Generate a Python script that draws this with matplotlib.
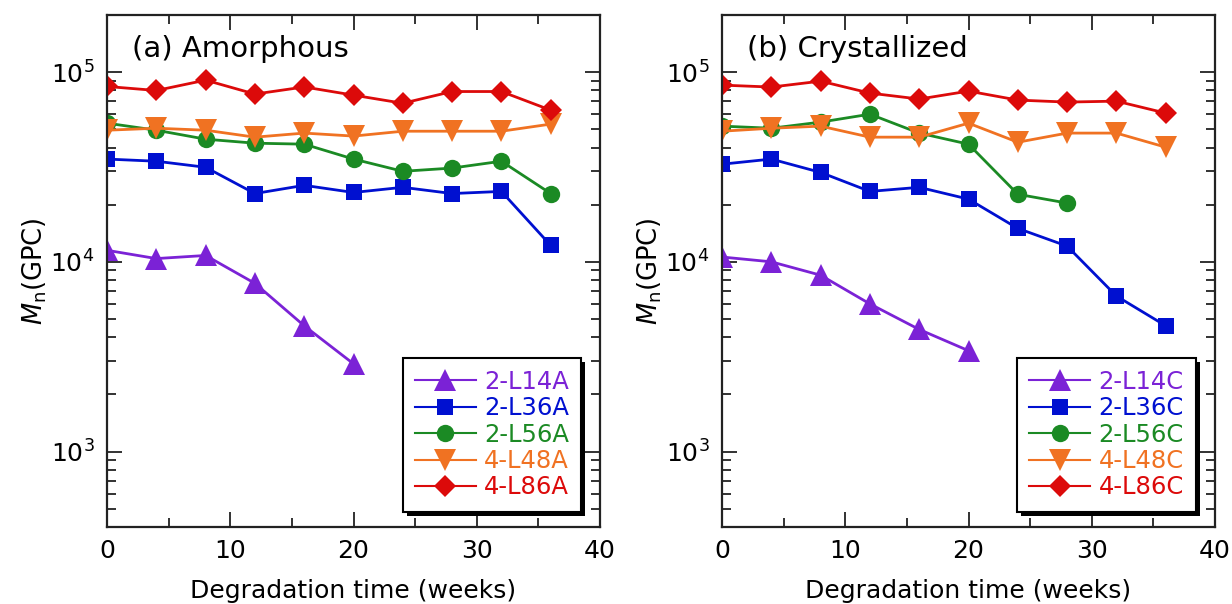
import matplotlib
matplotlib.use("Agg")
import matplotlib.pyplot as plt
import matplotlib.patheffects as pe
from matplotlib.ticker import LogLocator, MultipleLocator, NullFormatter

plt.rcParams['font.family'] = ['DejaVu Sans']
plt.rcParams['mathtext.fontset'] = 'dejavusans'

weeks = [0, 4, 8, 12, 16, 20, 24, 28, 32, 36]

# Panel (a) Amorphous
a_L14 = [11500, 10400, 10800, 7700, 4600, 2900]
a_L36 = [34800, 33900, 31500, 22900, 25300, 23200, 24700, 22900, 23500, 12200]
a_L56 = [53800, 49400, 44300, 42200, 41700, 34800, 30000, 31200, 33900, 22900]
a_L48 = [49400, 50600, 49400, 45400, 47700, 46000, 48800, 48800, 48800, 53200]
a_L86 = [84000, 80000, 90700, 76600, 83500, 75600, 68500, 79000, 79000, 63000]

# Panel (b) Crystallized
b_L14 = [10600, 10000, 8500, 6000, 4400, 3400]
b_L36 = [32700, 34800, 29600, 23500, 24700, 21400, 15000, 12100, 6600, 4600]
b_L56 = [51900, 50600, 54500, 60000, 47700, 41700, 22700, 20400]
b_L48 = [48800, 50600, 51900, 45400, 45400, 53800, 42700, 47700, 47700, 40200]
b_L86 = [85400, 83400, 89600, 77500, 72100, 79400, 71200, 69500, 70300, 60800]

labels_a = ['2-L14A', '2-L36A', '2-L56A', '4-L48A', '4-L86A']
labels_b = ['2-L14C', '2-L36C', '2-L56C', '4-L48C', '4-L86C']
panel_titles = ['(a) Amorphous', '(b) Crystallized']

colors = ['#7b22d6', '#0010d0', '#1b8a24', '#f07222', '#dc0a0a']
markers = ['^', 's', 'o', 'v', 'D']
msizes = [16, 11.5, 12.5, 16, 11.5]

fig = plt.figure(figsize=(12.32, 6.04), dpi=100)
axA = fig.add_axes([107/1232, 1-527/604, 493/1232, 512/604])
axB = fig.add_axes([722/1232, 1-527/604, 493/1232, 512/604])

panels = [
    (axA, [a_L14, a_L36, a_L56, a_L48, a_L86], labels_a, panel_titles[0]),
    (axB, [b_L14, b_L36, b_L56, b_L48, b_L86], labels_b, panel_titles[1]),
]

for ax, series, labels, title in panels:
    handles = []
    for vals, lab, c, m, ms in zip(series, labels, colors, markers, msizes):
        h, = ax.plot(weeks[:len(vals)], vals, color=c, marker=m, markersize=ms,
                     linewidth=2.0, markeredgewidth=0, label=lab)
        handles.append(h)
    ax.set_yscale('log')
    ax.set_xlim(0, 40)
    ax.set_ylim(400, 2e5)
    ax.xaxis.set_major_locator(MultipleLocator(10))
    ax.xaxis.set_minor_locator(MultipleLocator(5))
    ax.yaxis.set_major_locator(LogLocator(base=10, numticks=10))
    ax.yaxis.set_minor_locator(LogLocator(base=10, subs=range(2, 10), numticks=20))
    ax.yaxis.set_minor_formatter(NullFormatter())
    ax.tick_params(which='both', direction='in', top=True, right=True,
                   width=1.3, color='#222222', labelsize=18)
    ax.tick_params(which='major', length=11, pad=9)
    ax.tick_params(which='minor', length=6.5)
    for s in ax.spines.values():
        s.set_linewidth(1.6)
        s.set_color('#222222')
    ax.set_xlabel('Degradation time (weeks)', fontsize=18, labelpad=11)
    ax.set_ylabel(r'$M_\mathrm{n}$(GPC)', fontsize=18.5, labelpad=1)
    ax.text(0.05, 0.96, title, transform=ax.transAxes, fontsize=21,
            ha='left', va='top')
    leg = ax.legend(handles=handles, loc='lower right', bbox_to_anchor=(0.962, 0.03),
                    fontsize=17.5, frameon=True, fancybox=False, shadow=False,
                    framealpha=1.0, facecolor='white',
                    handlelength=2.5, handletextpad=0.35, labelspacing=0.1,
                    borderpad=0.5, borderaxespad=0, markerscale=1.0)
    frame = leg.get_frame()
    frame.set_edgecolor('black')
    frame.set_linewidth(1.5)
    frame.set_path_effects([pe.SimplePatchShadow(offset=(3, -3), shadow_rgbFace='black', alpha=1.0),
                            pe.Normal()])
    for t, c in zip(leg.get_texts(), colors):
        t.set_color(c)
    for lh in leg.legend_handles:
        lh.set_linewidth(1.5)

fig.savefig('out.png', dpi=100)
